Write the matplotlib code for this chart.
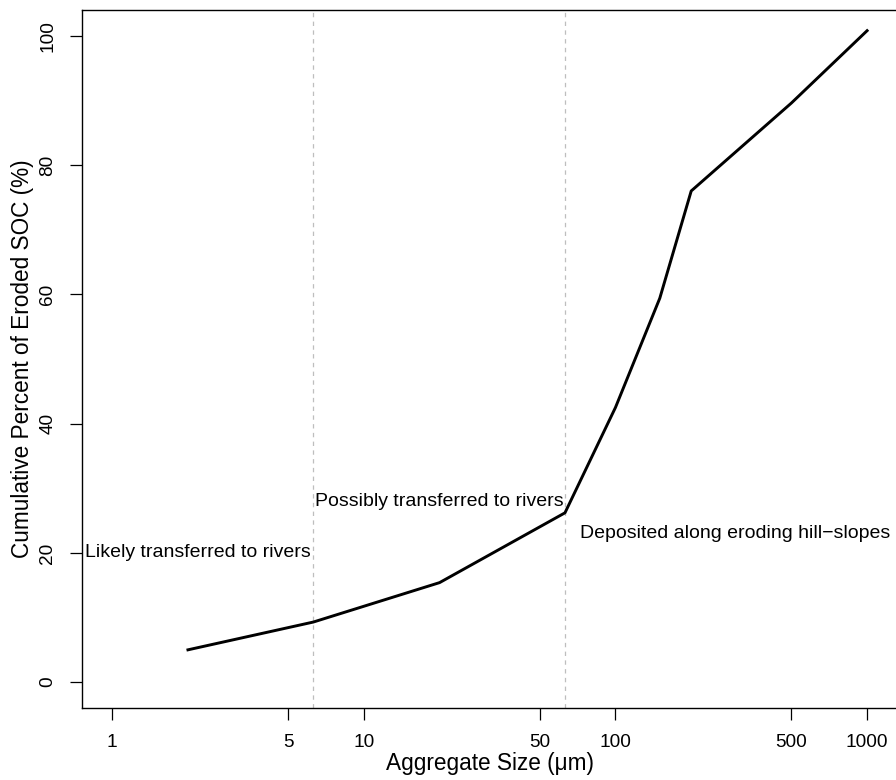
import numpy as np
import matplotlib
matplotlib.use("Agg")
import matplotlib.pyplot as plt

plt.rcParams['font.family'] = ['Liberation Sans', 'DejaVu Sans']

# cumulative eroded SOC by aggregate size class
agg_size = [2, 6.3, 20, 63, 100, 150, 200, 500, 1000]
cum_soc = [5.0, 9.3, 15.4, 26.2, 42.5, 59.4, 76.0, 89.6, 100.8]

cutoffs = [6.3, 63]
x_ticks = [1, 5, 10, 50, 100, 500, 1000]
y_ticks = [0, 20, 40, 60, 80, 100]

zone_labels = ["Likely transferred to rivers",
               "Possibly transferred to rivers",
               "Deposited along eroding hill\u2212slopes"]
zone_x = [2.2, 20, 300]
zone_y = [20, 28, 23]

fig = plt.figure(figsize=(8.96, 7.8), dpi=100)
ax = fig.add_axes([82 / 896, 72 / 780, (897.3 - 82) / 896, 698 / 780])

for c in cutoffs:
    ax.axvline(c, color='#bebebe', lw=0.9, ls=(0, (3.5, 3.5)), zorder=1)

ax.plot(agg_size, cum_soc, color='black', lw=2.1, zorder=3)

for lab, tx, ty in zip(zone_labels, zone_x, zone_y):
    ax.text(tx, ty, lab, ha='center', va='center', fontsize=14)

ax.set_xscale('log')
ax.set_xlim(10 ** -0.12, 10 ** 3.12)
ax.set_ylim(-4, 104)
ax.set_xticks(x_ticks)
ax.set_xticklabels([str(t) for t in x_ticks])
ax.xaxis.set_minor_locator(matplotlib.ticker.NullLocator())
ax.set_yticks(y_ticks)
ax.set_yticklabels([str(t) for t in y_ticks], rotation=90, va='center')

ax.tick_params(axis='both', direction='out', length=8.6, width=0.9,
               labelsize=13.7, pad=10)
for side in ['left', 'bottom', 'top', 'right']:
    ax.spines[side].set_linewidth(1.0)

ax.set_xlabel("Aggregate Size (\u03bcm)", fontsize=16.3, labelpad=1)
ax.set_ylabel("Cumulative Percent of Eroded SOC (%)", fontsize=16.3, labelpad=4)

fig.savefig("out.png", dpi=100)
